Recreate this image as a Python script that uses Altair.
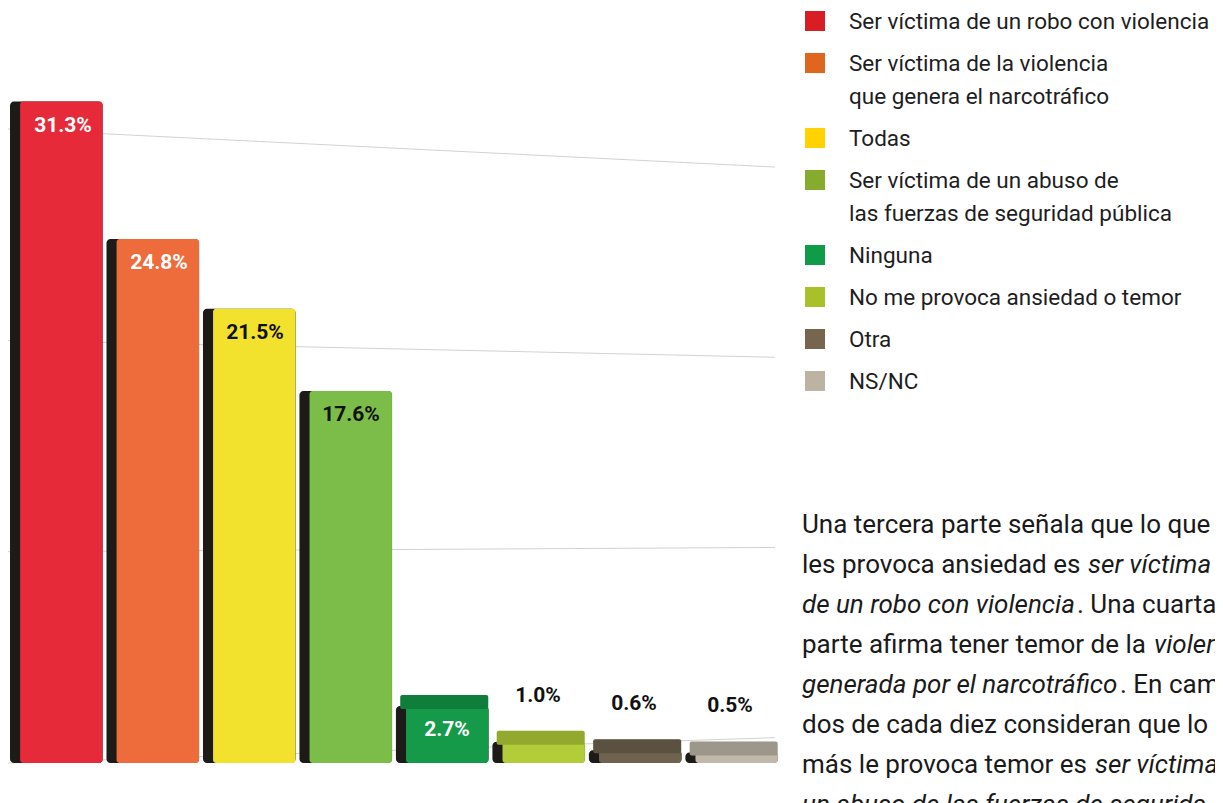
import altair as alt
import pandas as pd

# ---------------- data ----------------
categories = [
    "Ser víctima de un robo con violencia",
    "Ser víctima de la violencia que genera  el narcotráfico",
    "Todas",
    "Ser víctima de un abuso de las fuerzas de seguridad pública",
    "Ninguna",
    "No me provoca ansiedad o temor",
    "Otra",
    "NS/NC",
]
values = [31.3, 24.8, 21.5, 17.6, 2.7, 1.0, 0.6, 0.5]
bar_colors = ["#e62a3a", "#ee6c3c", "#f2e22e", "#7cbd4a", "#149a49", "#b3cd3a", "#6f634f", "#c0b8aa"]
legend_colors = ["#d81e24", "#e0661f", "#ffd200", "#86ab2f", "#0f9b48", "#a8c12b", "#76664f", "#bdb3a3"]
label_white = [True, True, False, False, True, False, False, False]
legend_lines = [
    ["Ser víctima de un robo con violencia"],
    ["Ser víctima de la violencia", "que genera  el narcotráfico"],
    ["Todas"],
    ["Ser víctima de un abuso de", "las fuerzas de seguridad pública"],
    ["Ninguna"],
    ["No me provoca ansiedad o temor"],
    ["Otra"],
    ["NS/NC"],
]
grid_values = [0, 10, 20, 30]
body_lines = [
    [("Una tercera parte señala que lo que", False)],
    [("les provoca ansiedad es ", False), ("ser víctima", True)],
    [("de un robo con violencia", True), (". Una cuarta", False)],
    [("parte afirma tener temor de la ", False), ("violen", True)],
    [("generada por el narcotráfico", True), (". En cam", False)],
    [("dos de cada diez consideran que lo c", False)],
    [("más le provoca temor es ", False), ("ser víctima", True)],
    [("un abuso de las fuerzas de segurida", True)],
]

# ---------------- layout (not data) ----------------
W, H = 1207, 795
OFF = 8  # page margin
seg_x = {(1, 1): 1088, (2, 1): 1077, (3, 1): 1154, (4, 1): 1120, (6, 1): 1095}

bars = pd.DataFrame({
    "cat": categories,
    "value": values,
    "color": bar_colors,
    "label": [f"{v:.1f}%" for v in values],
    "lcolor": ["#ffffff" if w else "#111111" for w in label_white],
})

xscale = alt.Scale(domain=categories, range=[2, 770], paddingInner=0.04, paddingOuter=0)
yscale = alt.Scale(domain=[0, 30], range=[755, 121], clamp=False, zero=False, nice=False)
X = alt.X("cat:N", scale=xscale, axis=None, sort=categories)
Y = alt.Y("value:Q", scale=yscale, axis=None)

grid = pd.DataFrame({"v": grid_values})
grid["v2"] = grid["v"] * 0.9 + 1.2
grid_layer = alt.Chart(grid).mark_rule(color="#d2d2d2", strokeWidth=1).encode(
    x=alt.value(0), x2=alt.value(767),
    y=alt.Y("v:Q", scale=yscale, axis=None),
    y2="v2:Q",
)

shadow = alt.Chart(bars).mark_bar(color="#1d1b18", cornerRadius=4).encode(
    x=X, y=Y, y2=alt.datum(0)
)
front = alt.Chart(bars).mark_bar(cornerRadius=3, width=alt.RelativeBandSize(0.89), xOffset=5).encode(
    x=X, y=Y, y2=alt.datum(0),
    color=alt.Color("color:N", scale=None, legend=None),
)
# visible top face of the low slabs
top_face = alt.Chart(bars).transform_filter("datum.value < 3").mark_bar(
    cornerRadius=2, width=alt.RelativeBandSize(0.95), xOffset=2, yOffset=3, y2Offset=-11
).encode(
    x=X, y=Y, y2="value:Q",
    color=alt.Color("color:N", scale=None, legend=None),
)
top_shade = alt.Chart(bars).transform_filter("datum.value < 3").mark_bar(
    cornerRadius=2, width=alt.RelativeBandSize(0.95), xOffset=2, yOffset=3, y2Offset=-11,
    color="#000000", opacity=0.18
).encode(x=X, y=Y, y2="value:Q")

inside = alt.Chart(bars).transform_filter("datum.value > 2").mark_text(
    font="Roboto", fontSize=21, fontWeight="bold", baseline="middle", dy=24, xOffset=5
).encode(
    x=X, y=Y, text="label:N",
    color=alt.Color("lcolor:N", scale=None, legend=None),
)
outside = alt.Chart(bars).transform_filter("datum.value <= 2").mark_text(
    font="Roboto", fontSize=21, fontWeight="bold", baseline="middle", dy=-46, color="#111111"
).encode(x=X, y=Y, text="label:N")

# legend
leg_sq, leg_tx = [], []
y = 21
for i, lines in enumerate(legend_lines):
    leg_sq.append({"y": y - OFF, "color": legend_colors[i]})
    for k, t in enumerate(lines):
        leg_tx.append({"y": y - OFF + 33 * k + 8, "t": t})
    y += 42 + 33 * (len(lines) - 1)
leg_sq = pd.DataFrame(leg_sq)
leg_tx = pd.DataFrame(leg_tx)
sq_layer = alt.Chart(leg_sq).mark_square(size=400, opacity=1).encode(
    x=alt.value(815 - OFF), y=alt.Y("y:Q", scale=None),
    color=alt.Color("color:N", scale=None, legend=None),
)
lt_layer = alt.Chart(leg_tx).mark_text(
    font="Roboto", fontSize=22.5, align="left", baseline="alphabetic", color="#1e1e1e"
).encode(x=alt.value(849 - OFF), y=alt.Y("y:Q", scale=None), text="t:N")

# body text
rows = []
for li, segs in enumerate(body_lines):
    for si, (t, it) in enumerate(segs):
        x = 802 if si == 0 else seg_x[(li, si)]
        rows.append({"t": t, "it": it, "x": x - OFF, "y": 533 + 40 * li - OFF})
body = pd.DataFrame(rows)
body_n = alt.Chart(body).transform_filter("!datum.it").mark_text(
    font="Roboto", fontSize=26, align="left", baseline="alphabetic", color="#1a1a1a"
).encode(x=alt.X("x:Q", scale=None), y=alt.Y("y:Q", scale=None), text="t:N")
body_i = alt.Chart(body).transform_filter("datum.it").mark_text(
    font="Roboto", fontSize=26, fontStyle="italic", align="left", baseline="alphabetic", color="#1a1a1a"
).encode(x=alt.X("x:Q", scale=None), y=alt.Y("y:Q", scale=None), text="t:N")

chart = alt.layer(
    grid_layer, shadow, front, top_face, top_shade, inside, outside, sq_layer, lt_layer, body_n, body_i
).resolve_scale(x="independent", y="independent", color="independent").properties(
    width=W, height=H, autosize=alt.AutoSizeParams(type="none"), padding=0
).configure_view(stroke=None)

chart.save("out.html", embed_options={"renderer": "svg", "actions": False})
